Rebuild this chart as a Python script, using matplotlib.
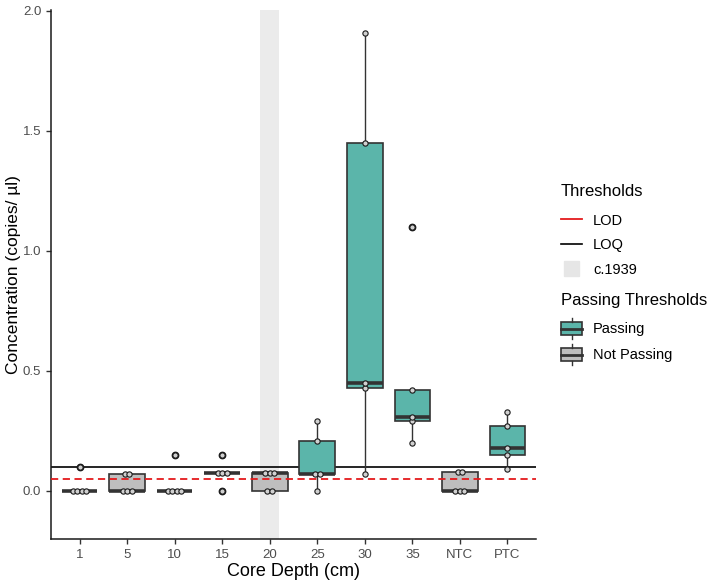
import numpy as np
import matplotlib.pyplot as plt
from matplotlib.lines import Line2D
from matplotlib.patches import Patch, Rectangle
from matplotlib.legend_handler import HandlerBase, HandlerPatch

plt.rcParams['font.family'] = ['Liberation Sans', 'DejaVu Sans']

# data
depths = ['1', '5', '10', '15', '20', '25', '30', '35', 'NTC', 'PTC']
conc = [
    [0, 0, 0, 0, 0.1],
    [0, 0, 0, 0.07, 0.07],
    [0, 0, 0, 0, 0.15],
    [0, 0.075, 0.075, 0.075, 0.15],
    [0, 0, 0.075, 0.075, 0.075],
    [0, 0.07, 0.07, 0.21, 0.29],
    [0.07, 0.43, 0.45, 1.45, 1.91],
    [0.2, 0.29, 0.31, 0.42, 1.1],
    [0, 0, 0, 0.08, 0.08],
    [0.09, 0.15, 0.18, 0.27, 0.33],
]
passing = [False, False, False, False, False, True, True, True, False, True]
lod = 0.05
loq = 0.1
c1939_depth = '20'

teal = '#5bb5aa'
grey = '#bebebe'
edge = '#333333'


class BoxHandler(HandlerBase):
    # little boxplot glyph like ggplot's legend key
    def create_artists(self, legend, orig_handle, xdescent, ydescent,
                       width, height, fontsize, trans):
        x0, y0 = -xdescent, -ydescent
        box = Rectangle((x0, y0 + 0.18 * height), width, 0.64 * height,
                        facecolor=orig_handle.get_facecolor(), edgecolor=edge,
                        linewidth=1.2, transform=trans)
        med = Line2D([x0, x0 + width], [y0 + height / 2] * 2, color=edge,
                     linewidth=2, transform=trans)
        lo = Line2D([x0 + width / 2] * 2, [y0, y0 + 0.18 * height], color=edge,
                    linewidth=1, transform=trans)
        hi = Line2D([x0 + width / 2] * 2, [y0 + 0.82 * height, y0 + height],
                    color=edge, linewidth=1, transform=trans)
        return [box, med, lo, hi]


def square_patch(legend, orig_handle, xdescent, ydescent, width, height, fontsize):
    s = 15 * 72 / 100
    return Rectangle((-xdescent + (width - s) / 2, -ydescent + (height - s) / 2), s, s)


fig = plt.figure(figsize=(7.09, 5.84), dpi=100)
ax = fig.add_axes([51 / 709, 45 / 584, 485 / 709, 529.5 / 584])

pos = np.arange(len(depths))
i_band = depths.index(c1939_depth)
ax.axvspan(i_band - 0.2, i_band + 0.2, color='#ebebeb', lw=0, zorder=0)

ax.axhline(loq, color='black', lw=1.2, zorder=1)

bp = ax.boxplot(conc, positions=pos, widths=0.75, patch_artist=True,
                showcaps=False, whis=1.5, zorder=2,
                boxprops=dict(edgecolor=edge, linewidth=1.2),
                whiskerprops=dict(color=edge, linewidth=1.0),
                medianprops=dict(color=edge, linewidth=2.6),
                flierprops=dict(marker='o', markerfacecolor='#1a1a1a',
                                markeredgecolor='#1a1a1a', markersize=4.6))
for patch, ok in zip(bp['boxes'], passing):
    patch.set_facecolor(teal if ok else grey)

ax.axhline(lod, color='#e41a1c', lw=1.3, ls=(0, (4, 2.5)), zorder=3)

# dotplot-style points, equal values side by side
for i, vals in enumerate(conc):
    uniq, counts = np.unique(vals, return_counts=True)
    for v, n in zip(uniq, counts):
        xs = i + (np.arange(n) - (n - 1) / 2) * 0.095
        ax.plot(xs, [v] * n, 'o', ls='none', ms=3.8, mfc='#d0d0d0',
                mec='#1a1a1a', mew=0.8, zorder=4)

ax.set_xlim(-0.6, len(depths) - 0.4)
ax.set_ylim(-0.2, 2.006)
ax.set_xticks(pos)
ax.set_xticklabels(depths)
ax.set_yticks([0, 0.5, 1.0, 1.5, 2.0])
ax.set_yticklabels(['0.0', '0.5', '1.0', '1.5', '2.0'])
ax.tick_params(colors=edge, labelcolor='#4d4d4d', labelsize=9.5, length=3.5, width=1)
for s in ['top', 'right']:
    ax.spines[s].set_visible(False)
for s in ['left', 'bottom']:
    ax.spines[s].set_linewidth(1.1)
    ax.spines[s].set_color('#1a1a1a')

ax.set_xlabel('Core Depth (cm)', fontsize=13, labelpad=2)
ax.set_ylabel('Concentration (copies/ µl)', fontsize=12.5)
ax.yaxis.set_label_coords(-0.062, 0.5)

h1 = [Line2D([], [], color='#e41a1c', lw=1.3),
      Line2D([], [], color='black', lw=1.2),
      Patch(color='#e6e6e6')]
leg1 = fig.legend(h1, ['LOD', 'LOQ', 'c.1939'], title='Thresholds',
                  loc='upper left', bbox_to_anchor=(561 / 709, 1 - 184 / 584),
                  frameon=False, fontsize=10.5, title_fontsize=12,
                  handlelength=1.45, handletextpad=0.75, labelspacing=0.73,
                  borderpad=0, borderaxespad=0, alignment='left',
                  handler_map={Patch: HandlerPatch(patch_func=square_patch)})
leg1._legend_box.sep = 10.5

h2 = [Patch(facecolor=teal), Patch(facecolor=grey)]
leg2 = fig.legend(h2, ['Passing', 'Not Passing'], title='Passing Thresholds',
                  loc='upper left', bbox_to_anchor=(561 / 709, 1 - 293 / 584),
                  frameon=False, fontsize=10.5, title_fontsize=12,
                  handlelength=1.45, handleheight=1.8, handletextpad=0.75,
                  labelspacing=0.37, borderpad=0, borderaxespad=0, alignment='left',
                  handler_map={Patch: BoxHandler()})
leg2._legend_box.sep = 7.5

fig.savefig('out.png', dpi=100)
